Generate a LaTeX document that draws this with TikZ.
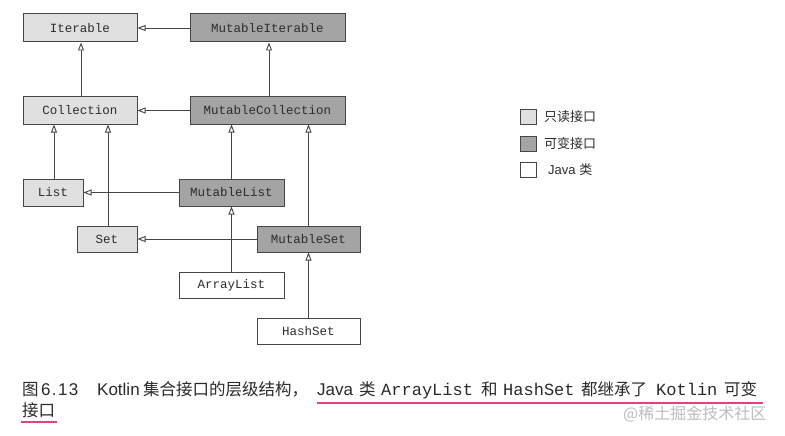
\documentclass[tikz,border=0pt]{standalone}
\usepackage{fontspec}
\setmainfont{Liberation Sans}
\setmonofont{Liberation Mono}
\newfontfamily\cjk{Noto Sans CJK SC}
\usetikzlibrary{arrows.meta}
\definecolor{edgec}{HTML}{454545}
\definecolor{rofill}{HTML}{E0E0E0}
\definecolor{mufill}{HTML}{A4A4A4}
\definecolor{txtc}{HTML}{2C2C2C}
\definecolor{captc}{HTML}{2A2A2A}
\definecolor{ulc}{HTML}{E0457A}
\definecolor{wmc}{HTML}{BDBDBD}
\begin{document}
\begin{tikzpicture}[x=1pt,y=-1pt,
  box/.style={draw=edgec, line width=1pt, text=txtc, font=\fontsize{12.5}{14}\ttfamily, inner sep=0pt},
  ro/.style={box, fill=rofill},
  mu/.style={box, fill=mufill},
  jv/.style={box, fill=white},
  inh/.style={draw=edgec, line width=0.9pt, -{Triangle[length=8pt,width=6pt,fill=white,line width=0.9pt]}},
  captxt/.style={inner sep=0pt, anchor=base west, text=captc, font=\fontsize{17}{20}\selectfont},
  capc/.style={captxt, font=\fontsize{16.5}{20}\cjk},
  capm/.style={captxt, font=\fontsize{17}{20}\ttfamily},
  leg/.style={inner sep=0pt, anchor=west, text=txtc, font=\fontsize{13}{15}\cjk},
  legbox/.style={minimum width=16pt, minimum height=15pt},
  ul/.style={draw=ulc, line width=2pt},
]
\useasboundingbox[fill=white] (0,0) rectangle (785,436);

% diagram boxes
\node[ro, minimum width=114pt, minimum height=28pt] (it) at (80,28) {Iterable};
\node[mu, minimum width=155pt, minimum height=28pt] (mit) at (267.5,28) {MutableIterable};
\node[ro, minimum width=114pt, minimum height=27pt] (col) at (80,110.5) {Collection};
\node[mu, minimum width=155pt, minimum height=27pt] (mcol) at (267.5,110.5) {MutableCollection};
\node[ro, minimum width=60pt, minimum height=27pt] (lst) at (53,192.5) {List};
\node[mu, minimum width=105pt, minimum height=27pt] (mlst) at (231.5,192.5) {MutableList};
\node[ro, minimum width=60pt, minimum height=26pt] (set) at (107,239) {Set};
\node[mu, minimum width=103pt, minimum height=26pt] (mset) at (308.5,239) {MutableSet};
\node[jv, minimum width=105pt, minimum height=26pt] (al) at (231.5,285) {ArrayList};
\node[jv, minimum width=103pt, minimum height=26pt] (hs) at (308.5,331) {HashSet};

% inheritance arrows
\draw[inh] (mit.west) -- (mit.west -| it.east);
\draw[inh] (mcol.west) -- (mcol.west -| col.east);
\draw[inh] (mlst.west) -- (mlst.west -| lst.east);
\draw[inh] (mset.west) -- (mset.west -| set.east);
\draw[inh] ([xshift=1pt]col.north) -- ([xshift=1pt]col.north |- it.south);
\draw[inh] ([xshift=1.5pt]mcol.north) -- ([xshift=1.5pt]mcol.north |- mit.south);
\draw[inh] ([xshift=1pt]lst.north) -- ([xshift=1pt]lst.north |- col.south);
\draw[inh] ([xshift=1pt]set.north) -- ([xshift=1pt]set.north |- col.south);
\draw[inh] (mlst.north) -- (mlst.north |- mcol.south);
\draw[inh] (mset.north) -- (mset.north |- mcol.south);
\draw[inh] (al.north) -- (al.north |- mlst.south);
\draw[inh] (hs.north) -- (hs.north |- mset.south);

% legend
\node[ro, legbox] (l1) at (528,116.5) {};
\node[mu, legbox] (l2) at (528,144) {};
\node[jv, legbox] (l3) at (528,170) {};
\node[leg] (t1) at (544,116.5) {只读接口};
\node[leg] (t2) at (544,144) {可变接口};
\node[leg, font=\fontsize{13}{15}\selectfont] (t3) at (548,170) {Java {\cjk 类}};

% caption
\node[capc] (c1) at (22,395) {图};
\node[captxt, font=\fontsize{17}{20}\selectfont\addfontfeatures{LetterSpace=8}] (c2) at (41,395) {6.13};
\node[captxt] (c3) at (97,395) {Kotlin};
\node[capc] (c4) at (143,395) {集合接口的层级结构，};
\node[captxt] (c5) at (317,395) {Java};
\node[capc] (c6) at (359,395) {类};
\node[capm] (c7) at (381,395) {ArrayList};
\node[capc] (c8) at (481,395) {和};
\node[capm] (c9) at (503,395) {HashSet};
\node[capc] (c10) at (581,395) {都继承了};
\node[capm] (c11) at (656,395) {Kotlin};
\node[capc] (c12) at (724,395) {可变};
\node[capc] (c13) at (22,416) {接口};
\coordinate (u1a) at (317,403);
\coordinate (u1b) at (763,403);
\coordinate (u2a) at (21,422);
\coordinate (u2b) at (57,422);
\draw[ul] (u1a) -- (u1b);
\draw[ul] (u2a) -- (u2b);
\node[capc, text=wmc, font=\fontsize{16}{18}\cjk] (wm) at (623,419) {@稀土掘金技术社区};
\end{tikzpicture}
\end{document}
